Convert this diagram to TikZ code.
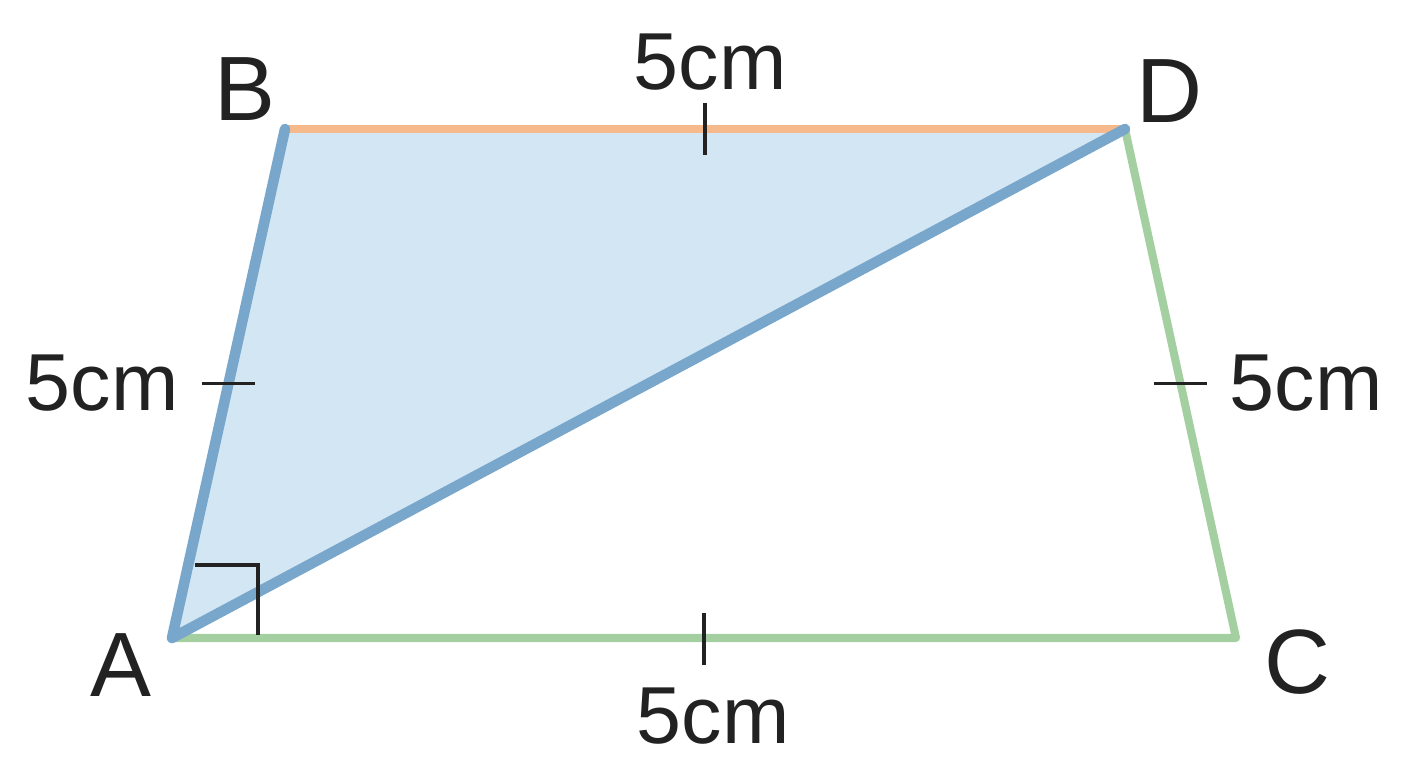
\documentclass[tikz,border=0pt]{standalone}
\usepackage{fontspec}
\setmainfont{Liberation Sans}
\usetikzlibrary{calc}
\definecolor{triblue}{HTML}{79A7CB}
\definecolor{trifill}{HTML}{D3E6F4}
\definecolor{sideorange}{HTML}{F5B98C}
\definecolor{sidegreen}{HTML}{A4CFA0}
\definecolor{inkdark}{HTML}{222222}
\tikzset{
  lbl/.style={font=\fontsize{46}{52}\selectfont, text=inkdark, inner sep=0pt},
  vname/.style={lbl, font=\fontsize{52}{58}\selectfont},
  side/.style={line width=4.6pt, line cap=round, line join=round},
  tick/.style={line width=2pt, draw=inkdark}
}
\begin{document}
\begin{tikzpicture}
   \useasboundingbox (0,0) rectangle (28.16,15.36);

   \coordinate (A) at (3.44,2.60);
   \coordinate (B) at (5.70,12.78);
   \coordinate (D) at (22.50,12.78);
   \coordinate (C) at (24.72,2.60);

   % shaded triangle
   \fill[trifill] (A) -- (B) -- (D) -- cycle;

   % sides
   \draw[side, sidegreen] (A) -- (C) -- (D);
   \draw[side, sideorange, line width=5pt] (B) -- (D);
   \draw[side, triblue, line width=6pt] (D) -- (A) -- (B);

   % right angle at A
   \draw[line width=2.4pt, inkdark] (3.90,4.06) -- (5.16,4.06) -- (5.16,2.65);

   % ticks
   \coordinate (mAB) at ($(A)!0.5!(B)$);
   \coordinate (mBD) at ($(B)!0.5!(D)$);
   \coordinate (mDC) at ($(D)!0.5!(C)$);
   \coordinate (mAC) at ($(A)!0.5!(C)$);
   \draw[tick] ($(mAB)+(-0.53,0)$) -- ($(mAB)+(0.53,0)$);
   \draw[tick] ($(mDC)+(-0.53,0)$) -- ($(mDC)+(0.53,0)$);
   \draw[tick] ($(mBD)+(0,-0.52)$) -- ($(mBD)+(0,0.52)$);
   \draw[tick] ($(mAC)+(0,-0.55)$) -- ($(mAC)+(0,0.50)$);

   % vertex names
   \node[vname] (lA) at (2.42,2.06) {A};
   \node[vname] (lB) at (4.90,13.58) {B};
   \node[vname] (lC) at (25.94,2.12) {C};
   \node[vname] (lD) at (23.38,13.54) {D};

   % lengths
   \node[lbl] (lenTop) at (14.20,14.12) {5cm};
   \node[lbl] (lenLeft) at (2.04,7.70) {5cm};
   \node[lbl] (lenRight) at (26.12,7.70) {5cm};
   \node[lbl] (lenBottom) at (14.26,1.04) {5cm};
\end{tikzpicture}
\end{document}
